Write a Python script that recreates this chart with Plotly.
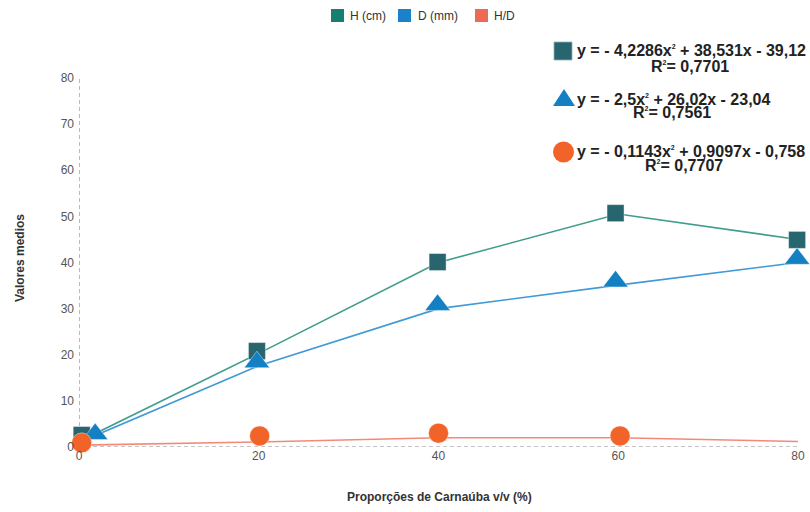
import plotly.graph_objects as go

# Proporções de Carnaúba (% v/v)
proporcoes = [0, 20, 40, 60, 80]

# Médias ligadas por linhas
altura_cm = [1.2, 20.3, 40.0, 50.5, 45.0]
diametro_mm = [1.0, 17.6, 30.0, 35.1, 40.0]
relacao_hd = [0.4, 1.1, 2.0, 2.0, 1.2]

# Posições dos símbolos de cada série
altura_sym_x = [0.3, 19.8, 39.9, 59.7, 79.9]
altura_sym_y = [2.6, 20.8, 40.1, 50.7, 44.9]
diametro_sym_x = [1.8, 19.8, 39.9, 59.7, 79.9]
diametro_sym_y = [2.8, 18.4, 30.8, 35.9, 40.8]
relacao_sym_x = [0.3, 20.1, 40.0, 60.2, 80.2]
relacao_sym_y = [0.9, 2.4, 3.0, 2.4, 1.7]

nomes = ["H (cm)", "D (mm)", "H/D"]
SUP2 = "<sup><span style='font-size:7px'>2</span></sup>"
equacoes = [
    f"y = - 4,2286x{SUP2} + 38,531x - 39,12",
    f"y = - 2,5x{SUP2} + 26,02x - 23,04",
    f"y = - 0,1143x{SUP2} + 0,9097x - 0,758",
]
r2 = [f"R{SUP2}= 0,7701", f"R{SUP2}= 0,7561", f"R{SUP2}= 0,7707"]

cor_legenda = ["#177f70", "#1a82c8", "#ef6a55"]
cor_linha = ["#3f9d8c", "#3f9ad6", "#f28a7a"]
cor_simbolo = ["#28666f", "#1380c4", "#f26329"]

W, H = 810, 512
L, R, T, B = 79, 798, 78, 447  # plot area in pixels


def px(x):
    return (x - L) / (R - L)


def py(y):
    return (B - y) / (B - T)


fig = go.Figure()

for i, serie in enumerate([altura_cm, diametro_mm, relacao_hd]):
    fig.add_trace(go.Scatter(
        x=proporcoes, y=serie, mode="lines",
        line=dict(color=cor_linha[i], width=1.6),
        showlegend=False, hoverinfo="skip", cliponaxis=False,
    ))
for i, (sx, sy, simb, tam) in enumerate([
    (altura_sym_x, altura_sym_y, "square", 17),
    (diametro_sym_x, diametro_sym_y, "triangle-up", 22),
    (relacao_sym_x, relacao_sym_y, "circle", 20),
]):
    fig.add_trace(go.Scatter(
        x=sx, y=sy, mode="markers",
        marker=dict(symbol=simb, size=tam, color=cor_simbolo[i],
                    line=dict(color="rgba(255,255,255,0.5)", width=0.8)),
        showlegend=False, cliponaxis=False, name=nomes[i],
    ))

shapes = [
    # dashed axes
    dict(type="line", xref="x", yref="y", x0=0, x1=0, y0=0, y1=80,
         line=dict(color="#8c8c8c", width=1.2, dash="4px,3px"), layer="below"),
    dict(type="line", xref="x", yref="y", x0=0, x1=80, y0=0, y1=0,
         line=dict(color="#8c8c8c", width=1.2, dash="4px,3px"), layer="below"),
]

annotations = []

# legend row at the top
leg_sq_x = [331, 398, 475]
leg_txt_x = [348, 416, 492]
for i, nome in enumerate(nomes):
    shapes.append(dict(type="rect", xref="paper", yref="paper",
                       x0=px(leg_sq_x[i]), x1=px(leg_sq_x[i] + 13),
                       y0=py(22), y1=py(9), fillcolor=cor_legenda[i],
                       line=dict(width=0)))
    annotations.append(dict(xref="paper", yref="paper", x=px(leg_txt_x[i]), y=py(15.5),
                            xanchor="left", yanchor="middle", showarrow=False,
                            text=nome, font=dict(size=12, color="#333")))

# equation key symbols
sq_c, sq_h = (563, 51), 9
shapes.append(dict(type="rect", xref="paper", yref="paper",
                   x0=px(sq_c[0] - sq_h), x1=px(sq_c[0] + sq_h),
                   y0=py(sq_c[1] + sq_h), y1=py(sq_c[1] - sq_h),
                   fillcolor=cor_simbolo[0], line=dict(color="#8fb0b5", width=0.8)))
tri = [(553, 106), (575, 106), (564, 89)]
path = "M " + " L ".join(f"{px(a):.5f},{py(b):.5f}" for a, b in tri) + " Z"
shapes.append(dict(type="path", xref="paper", yref="paper", path=path,
                   fillcolor=cor_simbolo[1], line=dict(width=0)))
ci_c, ci_r = (563.5, 152), 10.5
shapes.append(dict(type="circle", xref="paper", yref="paper",
                   x0=px(ci_c[0] - ci_r), x1=px(ci_c[0] + ci_r),
                   y0=py(ci_c[1] + ci_r), y1=py(ci_c[1] - ci_r),
                   fillcolor=cor_simbolo[2], line=dict(width=0)))

fonte_eq = dict(family="Liberation Sans, Arial", size=16, color="#222")
eq_y = [51, 99, 151]
r2_y = [66, 113, 165]
r2_x = [690, 672, 684]
for i in range(3):
    annotations.append(dict(xref="paper", yref="paper", x=px(575), y=py(eq_y[i]),
                            xanchor="left", yanchor="middle", showarrow=False,
                            text="<b>" + equacoes[i] + "</b>", font=fonte_eq))
    annotations.append(dict(xref="paper", yref="paper", x=px(r2_x[i]), y=py(r2_y[i]),
                            xanchor="center", yanchor="middle", showarrow=False,
                            text="<b>" + r2[i] + "</b>", font=fonte_eq))

# axis titles
annotations.append(dict(xref="paper", yref="paper", x=px(20), y=py(258),
                        xanchor="center", yanchor="middle", showarrow=False, textangle=-90,
                        text="<b>Valores medios</b>",
                        font=dict(family="Liberation Sans, Arial", size=12, color="#333")))
annotations.append(dict(xref="paper", yref="paper", x=px(439), y=py(497),
                        xanchor="center", yanchor="middle", showarrow=False,
                        text="<b>Proporções de Carnaúba v/v (%)</b>",
                        font=dict(family="Liberation Sans, Arial", size=12, color="#333")))

fig.update_layout(
    width=W, height=H,
    margin=dict(l=L, r=W - R, t=T, b=H - B, autoexpand=False),
    paper_bgcolor="white", plot_bgcolor="white",
    font=dict(family="Liberation Sans, Arial", size=12, color="#555"),
    xaxis=dict(range=[0, 80], tickvals=proporcoes, showgrid=False, zeroline=False,
               showline=False, ticks="", fixedrange=True, automargin=False),
    yaxis=dict(range=[0, 80], tickvals=[0, 10, 20, 30, 40, 50, 60, 70, 80],
               showgrid=False, zeroline=False, showline=False, ticks="",
               ticklabelstandoff=4, fixedrange=True, automargin=False),
    shapes=shapes, annotations=annotations,
    showlegend=False,
)

fig.write_html("out.html")
